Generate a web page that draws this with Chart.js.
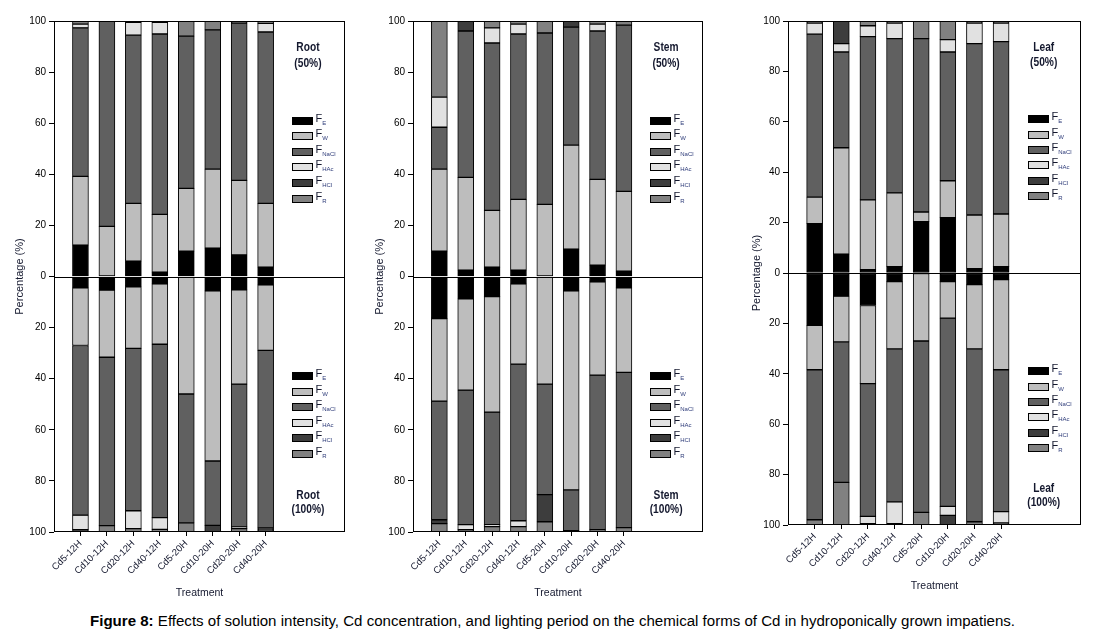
<!DOCTYPE html>
<html>
<head>
<meta charset="utf-8">
<script src="https://cdn.jsdelivr.net/npm/chart.js@4.4.1/dist/chart.umd.min.js"></script>
<style>
  body { margin: 0; background: #fff; }
  #wrap { position: relative; width: 1093px; height: 639px; overflow: hidden; }
  canvas { position: absolute; top: 0; }
  #caption { position: absolute; left: 90px; top: 613px; font: 14px "Liberation Sans", Arial, sans-serif;
             color: #000; white-space: nowrap; transform-origin: 0 0; line-height: 16px; }
</style>
</head>
<body>
<div id="wrap">
  <canvas id="c-root" width="360" height="600" style="left:0px"></canvas>
  <canvas id="c-stem" width="360" height="600" style="left:360px"></canvas>
  <canvas id="c-leaf" width="363" height="600" style="left:730px"></canvas>
  <div id="caption"><b>Figure 8:</b> Effects of solution intensity, Cd concentration, and lighting period on the chemical forms of Cd in hydroponically grown impatiens.</div>
</div>
<script>
// Datos (porcentaje de cada forma química de Cd)
const treatments = ['Cd5-12H', 'Cd10-12H', 'Cd20-12H', 'Cd40-12H', 'Cd5-20H', 'Cd10-20H', 'Cd20-20H', 'Cd40-20H'];
const fractions = ['E', 'W', 'NaCl', 'HAc', 'HCl', 'R'];
const yTicks = [-100, -80, -60, -40, -20, 0, 20, 40, 60, 80, 100];

// Root (50%) - barras hacia arriba
const root50FE   = [12.3, 0, 6.0, 1.7, 9.9, 11.1, 8.4, 3.7];
const root50FW   = [26.9, 19.6, 22.6, 22.6, 24.6, 30.9, 29.2, 24.9];
const root50NaCl = [58.1, 80.4, 65.9, 70.6, 59.6, 54.5, 61.6, 67.1];
const root50HAc  = [1.5, 0, 5.0, 4.6, 0, 0, 0, 3.4];
const root50HCl  = [0, 0, 0.5, 0.5, 0, 0, 0, 0];
const root50R    = [1.2, 0, 0, 0, 5.9, 3.5, 0.8, 0.9];
// Root (100%) - barras hacia abajo
const root100FE   = [4.4, 5.3, 4.0, 2.9, 0, 5.6, 5.2, 3.3];
const root100FW   = [22.6, 26.3, 24.1, 23.6, 46.0, 66.6, 36.9, 25.6];
const root100NaCl = [66.4, 65.9, 63.6, 67.9, 50.4, 25.2, 55.9, 69.5];
const root100HAc  = [5.7, 0, 7.0, 4.6, 0, 0, 0.7, 0];
const root100HCl  = [0.9, 0, 0, 0, 0, 2.6, 0, 0.8];
const root100R    = [0, 2.5, 1.3, 1.0, 3.6, 0, 1.3, 0.8];

// Stem (50%)
const stem50FE   = [9.9, 2.5, 3.7, 2.5, 0, 10.7, 4.4, 2.1];
const stem50FW   = [32.1, 36.3, 22.2, 27.7, 28.2, 40.7, 33.6, 31.2];
const stem50NaCl = [16.4, 57.3, 65.5, 64.7, 67.1, 46.2, 58.1, 65.1];
const stem50HAc  = [11.8, 0, 5.9, 3.9, 0, 0, 2.7, 0];
const stem50HCl  = [0, 3.9, 0, 0, 0, 2.4, 0, 0];
const stem50R    = [29.8, 0, 2.7, 1.2, 4.7, 0, 1.2, 1.6];
// Stem (100%)
const stem100FE   = [16.5, 8.7, 7.9, 2.9, 0, 5.6, 2.1, 4.4];
const stem100FW   = [32.3, 35.8, 45.2, 31.4, 42.1, 77.9, 36.5, 33.1];
const stem100NaCl = [46.4, 52.6, 44.0, 61.3, 43.3, 16.0, 60.5, 60.8];
const stem100HAc  = [0, 2.0, 0.8, 2.3, 0, 0, 0, 0];
const stem100HCl  = [1.5, 0.5, 0, 0, 10.6, 0.5, 0, 0];
const stem100R    = [3.3, 0.4, 2.1, 2.1, 4.0, 0, 0.9, 1.7];

// Leaf (50%)
const leaf50FE   = [19.6, 7.5, 1.3, 2.5, 20.4, 22.0, 1.7, 2.5];
const leaf50FW   = [10.5, 42.2, 27.7, 29.3, 3.8, 14.6, 21.3, 20.9];
const leaf50NaCl = [64.7, 38.0, 64.8, 61.2, 68.8, 51.1, 68.0, 68.4];
const leaf50HAc  = [4.4, 3.3, 4.3, 6.2, 0, 4.9, 8.2, 7.4];
const leaf50HCl  = [0, 9.0, 0, 0, 0, 0, 0, 0];
const leaf50R    = [0.8, 0, 1.9, 0.8, 7.0, 7.4, 0.8, 0.8];
// Leaf (100%)
const leaf100FE   = [20.8, 9.2, 12.9, 3.4, 0, 3.4, 4.6, 2.6];
const leaf100FW   = [17.6, 18.1, 31.0, 26.7, 27.0, 14.5, 25.5, 35.8];
const leaf100NaCl = [59.5, 55.8, 52.7, 60.7, 68.0, 74.7, 68.6, 56.3];
const leaf100HAc  = [0, 0, 2.9, 8.7, 0, 3.6, 0, 4.5];
const leaf100HCl  = [0, 0, 0.5, 0.5, 0, 3.8, 0, 0];
const leaf100R    = [2.1, 16.9, 0, 0, 5.0, 0, 1.3, 0.8];

const fractionColors = ['#000000', '#bdbdbd', '#606060', '#e1e1e1', '#3d3d3d', '#818181'];
const FONT = '"Liberation Sans", Arial, sans-serif';
const TEXT = '#14182e';
Chart.defaults.font.family = FONT;

// Dibuja el marco, la línea del cero, las leyendas y los rótulos de cada panel
const panelDecor = {
    id: 'panelDecor',
    afterDatasetsDraw(chart, args, opts) {
        const {ctx, chartArea: a, scales: {x, y}} = chart;
        ctx.save();
        ctx.strokeStyle = '#000';
        ctx.lineWidth = 1;
        const l = Math.round(a.left) + 0.5, r = Math.round(a.right) - 0.5;
        const t = Math.round(a.top) + 0.5, b = Math.round(a.bottom) - 0.5;
        ctx.strokeRect(l, t, r - l, b - t);
        const z = Math.round(y.getPixelForValue(0)) + 0.5;
        ctx.beginPath(); ctx.moveTo(l, z); ctx.lineTo(r, z); ctx.stroke();

        const drawLegend = (startVal) => {
            const bx = Math.round(x.getPixelForValue(9)) + 0.5;
            fractions.forEach((f, i) => {
                const cy = Math.round(y.getPixelForValue(startVal - i * 6.1));
                ctx.fillStyle = fractionColors[i];
                ctx.fillRect(bx, cy - 3.5, 20, 7);
                ctx.strokeRect(bx, cy - 3.5, 20, 7);
                ctx.textAlign = 'left';
                ctx.textBaseline = 'middle';
                ctx.fillStyle = TEXT;
                ctx.font = '11px ' + FONT;
                ctx.fillText('F', bx + 23, cy - 2);
                const fw = ctx.measureText('F').width;
                ctx.font = '6px ' + FONT;
                ctx.fillStyle = '#2c3a78';
                ctx.fillText(f, bx + 23 + fw, cy + 2.5);
            });
        };
        drawLegend(61);
        drawLegend(-39);

        const label = (txt, val) => {
            const cx = x.getPixelForValue(9.6), cy = y.getPixelForValue(val);
            ctx.save();
            ctx.translate(cx, cy);
            ctx.scale(0.85, 1);
            ctx.font = 'bold 12px ' + FONT;
            ctx.fillStyle = TEXT;
            ctx.textAlign = 'center';
            ctx.textBaseline = 'middle';
            ctx.fillText(txt, 0, 0);
            ctx.restore();
        };
        label(opts.name, 89.5);
        label('(50%)', 83.4);
        label(opts.name, -85.6);
        label('(100%)', -91.1);
        ctx.restore();
    }
};

const panels = [
    {canvas: 'c-root', name: 'Root', plotLeft: 54, plotRight: 345, plotTop: 21, plotBottom: 532, yTitleX: 20, xTitleY: 593,
     up: [root50FE, root50FW, root50NaCl, root50HAc, root50HCl, root50R],
     down: [root100FE, root100FW, root100NaCl, root100HAc, root100HCl, root100R]},
    {canvas: 'c-stem', name: 'Stem', plotLeft: 53, plotRight: 343, plotTop: 21, plotBottom: 532, yTitleX: 20, xTitleY: 593,
     up: [stem50FE, stem50FW, stem50NaCl, stem50HAc, stem50HCl, stem50R],
     down: [stem100FE, stem100FW, stem100NaCl, stem100HAc, stem100HCl, stem100R]},
    {canvas: 'c-leaf', name: 'Leaf', plotLeft: 58, plotRight: 351, plotTop: 21, plotBottom: 525, yTitleX: 27, xTitleY: 586,
     up: [leaf50FE, leaf50FW, leaf50NaCl, leaf50HAc, leaf50HCl, leaf50R],
     down: [leaf100FE, leaf100FW, leaf100NaCl, leaf100HAc, leaf100HCl, leaf100R]}
];

// una categoría vacía a la izquierda y tres a la derecha (espacio de la leyenda)
const labels = ['', ...treatments, '', '', ''];
const pad = v => [null, ...v.map(n => n || null), null, null, null];

panels.forEach(p => {
    const el = document.getElementById(p.canvas);
    const W = el.width, H = el.height;
    const datasets = [];
    p.up.forEach((vals, i) => datasets.push({
        label: 'F' + fractions[i] + ' (50%)', data: pad(vals),
        backgroundColor: fractionColors[i], stack: 's'
    }));
    p.down.forEach((vals, i) => datasets.push({
        label: 'F' + fractions[i] + ' (100%)', data: pad(vals.map(v => -v)),
        backgroundColor: fractionColors[i], stack: 's'
    }));

    new Chart(el.getContext('2d'), {
        type: 'bar',
        data: {labels: labels, datasets: datasets},
        plugins: [panelDecor],
        options: {
            responsive: false,
            animation: false,
            layout: {padding: {left: 0, top: p.plotTop, right: W - p.plotRight, bottom: 0}},
            datasets: {bar: {barThickness: 16, borderWidth: 1, borderColor: '#000', borderSkipped: false}},
            plugins: {legend: {display: false}, tooltip: {enabled: false}, panelDecor: {name: p.name}},
            scales: {
                x: {
                    stacked: true,
                    offset: false,
                    afterFit: s => { s.height = H - p.plotBottom; },
                    border: {display: false},
                    grid: {
                        offset: false, drawOnChartArea: false, tickLength: 4,
                        color: c => (c.index >= 1 && c.index <= 8) ? '#000' : 'rgba(0,0,0,0)'
                    },
                    ticks: {autoSkip: false, minRotation: 45, maxRotation: 45, padding: 2,
                            color: TEXT, font: {size: 9.5}},
                    title: {display: true, text: 'Treatment', color: TEXT, font: {size: 10.5},
                            padding: {top: 0, bottom: H - p.xTitleY - 6.3}}
                },
                y: {
                    stacked: true,
                    min: -100, max: 100,
                    afterFit: s => { s.width = p.plotLeft; },
                    afterBuildTicks: s => { s.ticks = yTicks.map(v => ({value: v})); },
                    border: {display: false},
                    grid: {drawOnChartArea: false, tickLength: 5, color: '#000'},
                    ticks: {callback: v => Math.abs(v), padding: 3, color: '#000', font: {size: 10}},
                    title: {display: true, text: 'Percentage (%)', color: TEXT, font: {size: 11},
                            padding: {top: p.yTitleX - 6.6, bottom: 0}}
                }
            }
        }
    });
});

// ajusta el ancho del pie de figura al del original
const cap = document.getElementById('caption');
cap.style.transform = 'scaleX(' + (925 / cap.getBoundingClientRect().width) + ')';
</script>
</body>
</html>
